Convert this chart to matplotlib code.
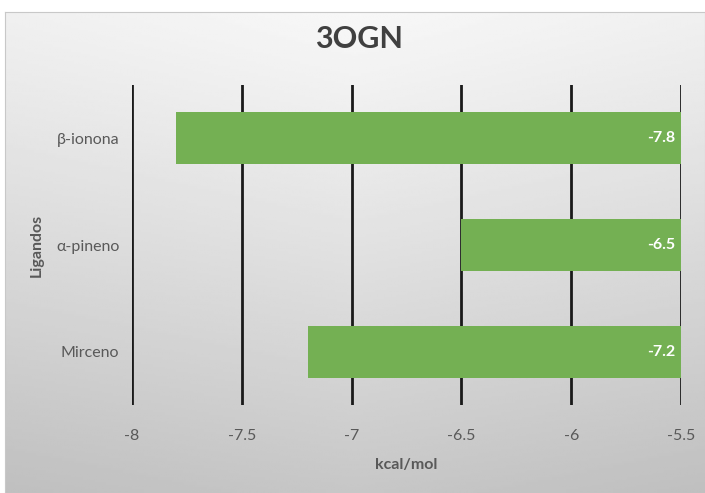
import matplotlib.pyplot as plt
import numpy as np

ligandos = ["Mirceno", "α-pineno", "β-ionona"]
energia = [-7.2, -6.5, -7.8]
base = -5.5
ticks = [-8, -7.5, -7, -6.5, -6, -5.5]

plt.rcParams['font.family'] = ['Lato', 'DejaVu Sans']

fig = plt.figure(figsize=(7.05, 4.93), dpi=100)
fig.patch.set_facecolor("white")

# grey gradient panel behind everything
bg = fig.add_axes([5/705, 0, 700/705, 481/493])
yy, xx = np.mgrid[0:1:200j, 0:1:300j]
shade = 0.97 - 0.19 * (1 - yy) ** 1.1 - 0.06 * np.abs(xx - 0.5)
bg.imshow(shade, cmap="gray", vmin=0, vmax=1, aspect="auto",
          origin="lower", extent=[0, 1, 0, 1])
bg.set_xlim(0, 1)
bg.set_ylim(0, 1)
bg.set_xticks([])
bg.set_yticks([])
for s in bg.spines.values():
    s.set_color("#c8c8c8")
    s.set_linewidth(0.8)

ax = fig.add_axes([132/705, 88/493, 549/705, 320/493])
ax.set_facecolor("none")
y = np.arange(len(ligandos))
widths = [v - base for v in energia]
ax.barh(y, widths, left=base, height=0.49, color="#74b053", zorder=3)
for yi, v in zip(y, energia):
    ax.text(base - 0.025, yi, f"{v}", ha="right", va="center",
            color="white", fontsize=11.5, fontweight="bold", zorder=4)

ax.set_xlim(-8, -5.5)
ax.set_ylim(-0.5, 2.5)
ax.set_xticks(ticks)
ax.set_xticklabels([f"{t:g}" for t in ticks])
ax.set_yticks(y)
ax.set_yticklabels(ligandos)
ax.grid(axis="x", color="#1a1a1a", linewidth=2, zorder=1)
ax.tick_params(axis="both", length=0, colors="#595959", labelsize=11.5)
ax.tick_params(axis="x", pad=17)
ax.tick_params(axis="y", pad=9)
for s in ax.spines.values():
    s.set_visible(False)

ax.set_xlabel("kcal/mol", fontsize=11.5, fontweight="bold",
              color="#595959", labelpad=11)
ax.set_ylabel("Ligandos", fontsize=11.5, fontweight="bold",
              color="#595959", labelpad=9)
fig.text(359/705, 1 - 39/493, "3OGN", ha="center", va="center",
         fontsize=22, fontweight="bold", color="#404040")

fig.savefig("out.png", dpi=100)
